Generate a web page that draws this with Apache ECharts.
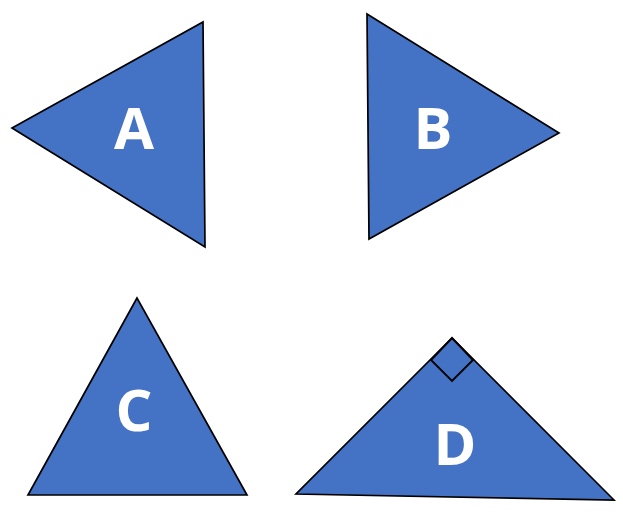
<!DOCTYPE html>
<html>
<head>
<meta charset="utf-8">
<script src="https://cdn.jsdelivr.net/npm/echarts@6/dist/echarts.min.js"></script>
<style>
  html, body { margin: 0; padding: 0; background: #fff; }
  #chart { width: 623px; height: 518px; }
</style>
</head>
<body>
<div id="chart"></div>
<script>
// 图形坐标按像素读取（原点左上角，y 向下）
const shapeNames = ["A", "B", "C", "D"];
const triA = [[12, 128], [203, 22], [205, 247]];
const triB = [[367, 14], [559, 133], [369, 239]];
const triC = [[137, 298], [28, 495], [247, 495]];
const triD = [[452, 338], [296, 494], [614, 500]];
const labelPos = [[134, 132], [433, 132], [134, 414], [455, 448]];
// D 顶点处的直角标记
const rightAngle = [[452, 338], [431, 360], [452, 381], [473, 360]];

const triangles = [triA, triB, triC, triD];

const chart = echarts.init(document.getElementById("chart"), null, { renderer: "canvas" });

chart.setOption({
  animation: false,
  grid: { left: 0, right: 0, top: 0, bottom: 0 },
  xAxis: { type: "value", min: 0, max: 623, show: false },
  yAxis: { type: "value", min: 0, max: 518, inverse: true, show: false },
  series: [
    {
      type: "custom",
      data: triangles.map((t, i) => [i]),
      renderItem: (params, api) => {
        const pts = triangles[api.value(0)].map((p) => api.coord(p));
        return {
          type: "polygon",
          shape: { points: pts },
          style: { fill: "#4472C4", stroke: "#000", lineWidth: 1.7 }
        };
      }
    },
    {
      type: "custom",
      data: [[0]],
      z: 3,
      renderItem: (params, api) => ({
        type: "polygon",
        shape: { points: rightAngle.map((p) => api.coord(p)) },
        style: { fill: "none", stroke: "#000", lineWidth: 1.9 }
      })
    },
    {
      type: "scatter",
      z: 4,
      symbolSize: 0,
      itemStyle: { opacity: 1 },
      data: labelPos.map((p, i) => ({ name: shapeNames[i], value: p })),
      label: {
        show: true,
        position: "inside",
        formatter: "{b}",
        color: "#fff",
        opacity: 1,
        fontSize: 58,
        fontWeight: "bold",
        fontFamily: "Open Sans"
      }
    }
  ]
});
</script>
</body>
</html>
